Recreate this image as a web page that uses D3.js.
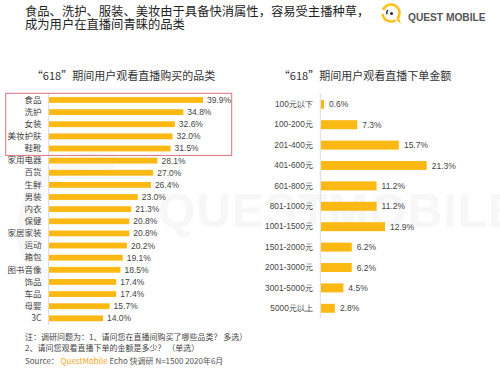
<!DOCTYPE html>
<html><head><meta charset="utf-8">
<script src="https://cdn.jsdelivr.net/npm/d3@7"></script>
<style>
html,body{margin:0;padding:0;background:#fff;}
svg{display:block;font-family:"Liberation Sans","Noto Sans CJK SC",sans-serif;}
</style></head>
<body>
<svg id="c" width="500" height="371"></svg>
<script>
const headerLines = ["食品、洗护、服装、美妆由于具备快消属性，容易受主播种草，", "成为用户在直播间青睐的品类"];
const leftTitle = "“618”期间用户观看直播购买的品类";
const leftCategories = ["食品","洗护","女装","美妆护肤","鞋靴","家用电器","百货","生鲜","男装","内衣","保健","家居家装","运动","箱包","图书音像","饰品","车品","母婴","3C"];
const leftValues = [39.9,34.8,32.6,32.0,31.5,28.1,27.0,26.4,23.0,21.3,20.8,20.8,20.2,19.1,18.5,17.4,17.4,15.7,14.0];
const highlighted = ["食品","洗护","女装","美妆护肤","鞋靴"];
const rightTitle = "“618”期间用户观看直播下单金额";
const rightCategories = ["100元以下","100-200元","201-400元","401-600元","601-800元","801-1000元","1001-1500元","1501-2000元","2001-3000元","3001-5000元","5000元以上"];
const rightValues = [0.6,7.3,15.7,21.3,11.2,11.2,12.9,6.2,6.2,4.5,2.8];
const notes = ["注：调研问题为：1、请问您在直播间购买了哪些品类？ 多选）","2、请问您观看直播下单的金额是多少？ （单选）"];

const svg = d3.select("#c");
const barColor = "#fdb913";

// watermark
const wm = svg.append("g");
wm.append("text").attr("x",158).attr("y",227).attr("font-size",48).attr("font-weight","bold")
  .attr("fill","#f7f7f7").attr("letter-spacing",1).text("QUESTMOBILE");
wm.append("path").attr("d", d3.arc()({innerRadius:62,outerRadius:78,startAngle:-2.4,endAngle:0.3}))
  .attr("transform","translate(95,230)").attr("fill","#f8f8f8");

// header
svg.append("g").selectAll("text").data(headerLines).join("text")
  .attr("x",25).attr("y",(d,i)=>16+i*12.6).attr("font-size",12.3).attr("fill","#222")
  .attr("font-family","Noto Sans CJK SC").text(d=>d);

// logo
const logo = svg.append("g").attr("transform","translate(391,13)");
logo.append("path").attr("d", d3.arc()({innerRadius:7.2,outerRadius:9.8,startAngle:-1.2,endAngle:2.3}))
  .attr("fill","#fcc21b");
logo.append("path").attr("d", d3.arc()({innerRadius:7.2,outerRadius:9.8,startAngle:2.6,endAngle:4.6}))
  .attr("fill","#fcc21b");
logo.append("path").attr("d","M5,7 L10,11 L8,5 Z").attr("fill","#fcc21b");
logo.append("path").attr("d", d3.arc()({innerRadius:3.6,outerRadius:5,startAngle:-1.9,endAngle:-0.8})).attr("fill","#333");
logo.append("circle").attr("r",1.6).attr("cx",0.5).attr("cy",0.5).attr("fill","#333");
svg.append("text").attr("x",408).attr("y",20.5).attr("font-size",10.2).attr("font-weight","bold")
  .attr("fill","#555").attr("font-family","Liberation Sans").text("QUEST MOBILE");

// left chart
const lx = d3.scaleLinear().domain([0,40]).range([49, 49+154.4]);
const ly = d3.scaleBand().domain(leftCategories).range([93.9, 324.4]).paddingInner(0.52).paddingOuter(0.26);
svg.append("text").attr("x",123.5).attr("y",79.5).attr("text-anchor","middle").attr("font-size",11)
  .attr("fill","#333").attr("font-family","Noto Sans CJK SC").text(leftTitle);
const lg = svg.append("g");
lg.selectAll("rect").data(leftValues).join("rect")
  .attr("x",lx(0)).attr("y",(d,i)=>ly(leftCategories[i]))
  .attr("width",d=>lx(d)-lx(0)).attr("height",ly.bandwidth()).attr("fill",barColor);
lg.selectAll("text.v").data(leftValues).join("text").attr("class","v")
  .attr("x",d=>lx(d)+4).attr("y",(d,i)=>ly(leftCategories[i])+ly.bandwidth()/2+3)
  .attr("font-size",8.5).attr("fill","#444").text(d=>d.toFixed(1)+"%");
const lAxis = svg.append("g").attr("transform",`translate(${lx(0)-0.5},0)`)
  .call(d3.axisLeft(ly).tickSize(0).tickPadding(7));
lAxis.select(".domain").attr("stroke","#ddd").attr("d","M0,93V325");
lAxis.selectAll("text").attr("font-size",8.5).attr("fill","#444").attr("font-family","Noto Sans CJK SC, Liberation Sans");
// highlight box
const hb = highlighted.map(c=>ly(c));
svg.append("rect").attr("x",5.7).attr("y",93.3).attr("width",226).attr("height",d3.max(hb)+ly.bandwidth()+4-93.3)
  .attr("fill","none").attr("stroke","#d9737c").attr("stroke-width",1);

// right chart
const rx = d3.scaleLinear().domain([0,21.3]).range([321, 426.7]);
const ry = d3.scaleBand().domain(rightCategories).range([94.1, 318.5]).paddingInner(0.56).paddingOuter(0.28);
svg.append("text").attr("x",365).attr("y",79.5).attr("text-anchor","middle").attr("font-size",11)
  .attr("fill","#333").attr("font-family","Noto Sans CJK SC").text(rightTitle);
const rg = svg.append("g");
rg.selectAll("rect").data(rightValues).join("rect")
  .attr("x",rx(0)).attr("y",(d,i)=>ry(rightCategories[i]))
  .attr("width",d=>rx(d)-rx(0)).attr("height",ry.bandwidth()).attr("fill",barColor);
rg.selectAll("text.v").data(rightValues).join("text").attr("class","v")
  .attr("x",d=>rx(d)+5).attr("y",(d,i)=>ry(rightCategories[i])+ry.bandwidth()/2+3)
  .attr("font-size",8.5).attr("fill","#444").text(d=>d.toFixed(1)+"%");
const rAxis = svg.append("g").attr("transform",`translate(${rx(0)-0.7},0)`)
  .call(d3.axisLeft(ry).tickSize(0).tickPadding(7.5));
rAxis.select(".domain").attr("stroke","#ddd").attr("d","M0,93V318");
rAxis.selectAll("text").attr("font-size",8.3).attr("fill","#444");

// notes
svg.append("g").selectAll("text").data(notes).join("text")
  .attr("x",25).attr("y",(d,i)=>340+i*11).attr("font-size",8).attr("fill","#444")
  .attr("font-family","Noto Sans CJK SC").text(d=>d);
const src = svg.append("text").attr("x",25).attr("y",364).attr("font-size",8).attr("fill","#555")
  .attr("font-family","Noto Sans CJK SC, Liberation Sans");
src.append("tspan").text("Source：  ");
src.append("tspan").attr("fill","#f5a31d").text("QuestMobile");
src.append("tspan").text(" Echo 快调研 N=1500 2020年6月");
</script>
</body></html>
